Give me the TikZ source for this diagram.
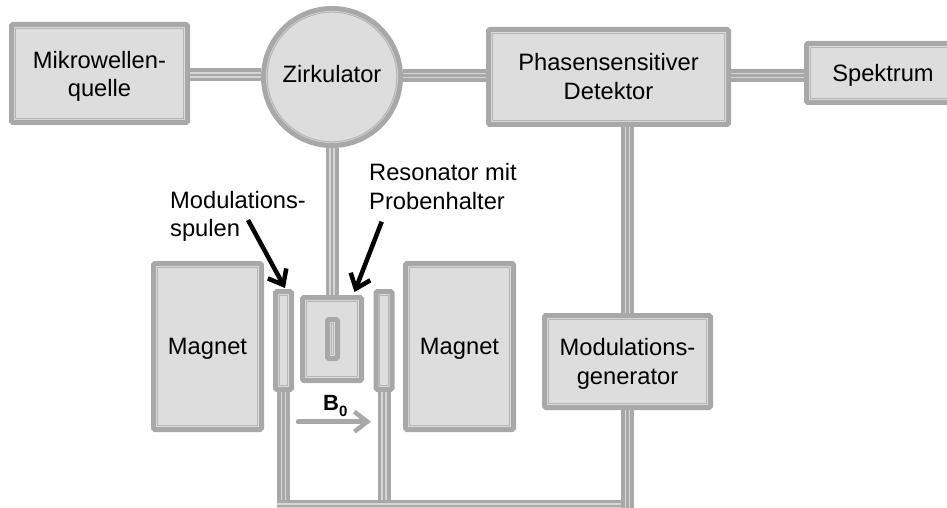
\documentclass[tikz,border=0pt]{standalone}
\usepackage{fontspec}
\setmainfont{Liberation Sans}
\usetikzlibrary{arrows.meta}
\definecolor{rim}{HTML}{A8A8A8}
\definecolor{gap}{HTML}{D6D6D6}
\definecolor{body}{HTML}{DDDDDD}
\newcommand{\twolines}[3]{\smash{\raisebox{\dimexpr #1pt+28.5pt\relax}{\makebox[0pt]{#2}}\raisebox{#1pt}{\makebox[0pt]{#3}}}}
\newcommand{\oneline}[2]{\smash{\raisebox{#1pt}{\makebox[0pt]{#2}}}}
% \partbox{name}{x0}{y0}{x1}{y1}{text}: thick-thin framed box given by its outer edges
\newcommand{\partbox}[6]{%
  \pgfmathsetmacro{\cx}{(#2+#4)/2}\pgfmathsetmacro{\cy}{(#3+#5)/2}%
  \pgfmathsetmacro{\bw}{#4-#2-5}\pgfmathsetmacro{\bh}{#5-#3-5}%
  \node[framed,minimum width=\bw pt,minimum height=\bh pt] (#1) at (\cx,\cy) {#6};
  \draw[innerline] (#2+6.2,#3+6.2) rectangle (#4-6.2,#5-6.2);
}
\tikzset{
  x=1pt,y=-1pt,
  framed/.style={rectangle,draw=rim,fill=body,line width=5pt,rounded corners=1.5pt,inner sep=0pt,font=\fontsize{23.7}{28.5}\selectfont},
  innerline/.style={draw=rim!85!white,line width=1pt},
  wire/.style={draw=rim,line width=13pt,postaction={draw=gap,line width=5.6pt},postaction={draw=rim,line width=2.8pt}},
  callout/.style={inner sep=0pt,anchor=base west,font=\fontsize{23.7}{28.5}\selectfont},
  pointer/.style={draw=black,line width=4.5pt,-{Straight Barb[length=13pt,width=21pt,line width=4.5pt]}},
  fieldarrow/.style={draw=rim,line width=4.5pt,line cap=round,-{Straight Barb[length=13pt,width=20pt,line width=4.5pt]}},
}
\begin{document}
\begin{tikzpicture}
\useasboundingbox (0,0) rectangle (947,508);
\clip (0,0) rectangle (947,508);
\partbox{mikro}{9}{22}{190}{125}{\twolines{-23.2}{Mikrowellen-}{quelle}}
\node[framed,circle,minimum size=137pt] (zirk) at (332,77) {\oneline{-6}{Zirkulator}};
\draw[innerline] (332,77) circle[radius=64.8];
\partbox{psd}{486}{27}{731}{127}{\twolines{-22.3}{Phasensensitiver}{Detektor}}
\partbox{spek}{804}{41}{962}{105}{\oneline{-8.7}{Spektrum}}
\partbox{modgen}{542}{313}{713}{410}{\twolines{-22.7}{Modulations-}{generator}}
\partbox{magL}{151}{261}{264}{432}{\oneline{-7.8}{Magnet}}
\partbox{magR}{403}{261}{516}{432}{\oneline{-7.8}{Magnet}}
\partbox{res}{300}{295}{364}{383}{}
\partbox{probe}{325}{317}{340}{361}{}
\partbox{coilL}{273}{289}{294}{392}{}
\partbox{coilR}{373.5}{289}{394.5}{392}{}
% connectors
\path[wire] ([yshift=-1.5pt]mikro.east) -- ([yshift=-1.5pt]mikro.east -| zirk.west);
\path[wire] ([yshift=1.5pt]zirk.east) -- ([yshift=1.5pt]zirk.east -| psd.west);
\path[wire] ([yshift=1.5pt]psd.east) -- ([yshift=1.5pt]psd.east -| spek.west);
\path[wire] (zirk.south) -- (res.north);
\path[wire] (modgen.north) -- (modgen.north |- psd.south);
\coordinate (busL) at (277,506);
\coordinate (busFoot) at (277,514);
\path[wire] (coilL.south) -- (coilL.south |- busL);
\path[wire] (coilR.south) -- (coilR.south |- busL);
\path[wire] (busL) -- (busL -| modgen.south);
\path[wire] (modgen.south) -- (modgen.south |- busFoot);
% call-outs
\node[callout] (lblspulen1) at (170,208) {Modulations-};
\node[callout] (lblspulen2) at (170,236.7) {spulen};
\node[callout] (lblres1) at (369,180.7) {Resonator mit};
\node[callout] (lblres2) at (369,209.3) {Probenhalter};
\coordinate (spulenStart) at (248,220);
\coordinate (spulenTip) at (285,288);
\coordinate (resStart) at (381.7,221.7);
\coordinate (resTip) at (354.5,292);
\draw[pointer] (spulenStart) -- (spulenTip);
\draw[pointer] (resStart) -- (resTip);
% field
\coordinate (fieldStart) at (298,421.7);
\coordinate (fieldTip) at (371,421.7);
\draw[fieldarrow] (fieldStart) -- (fieldTip);
\node[inner sep=0pt,anchor=base west,font=\bfseries\fontsize{22}{24}\selectfont] (bnull) at (323,410.7) {B\raisebox{-5.3pt}{\fontsize{15}{16}\selectfont 0}};
\end{tikzpicture}
\end{document}
